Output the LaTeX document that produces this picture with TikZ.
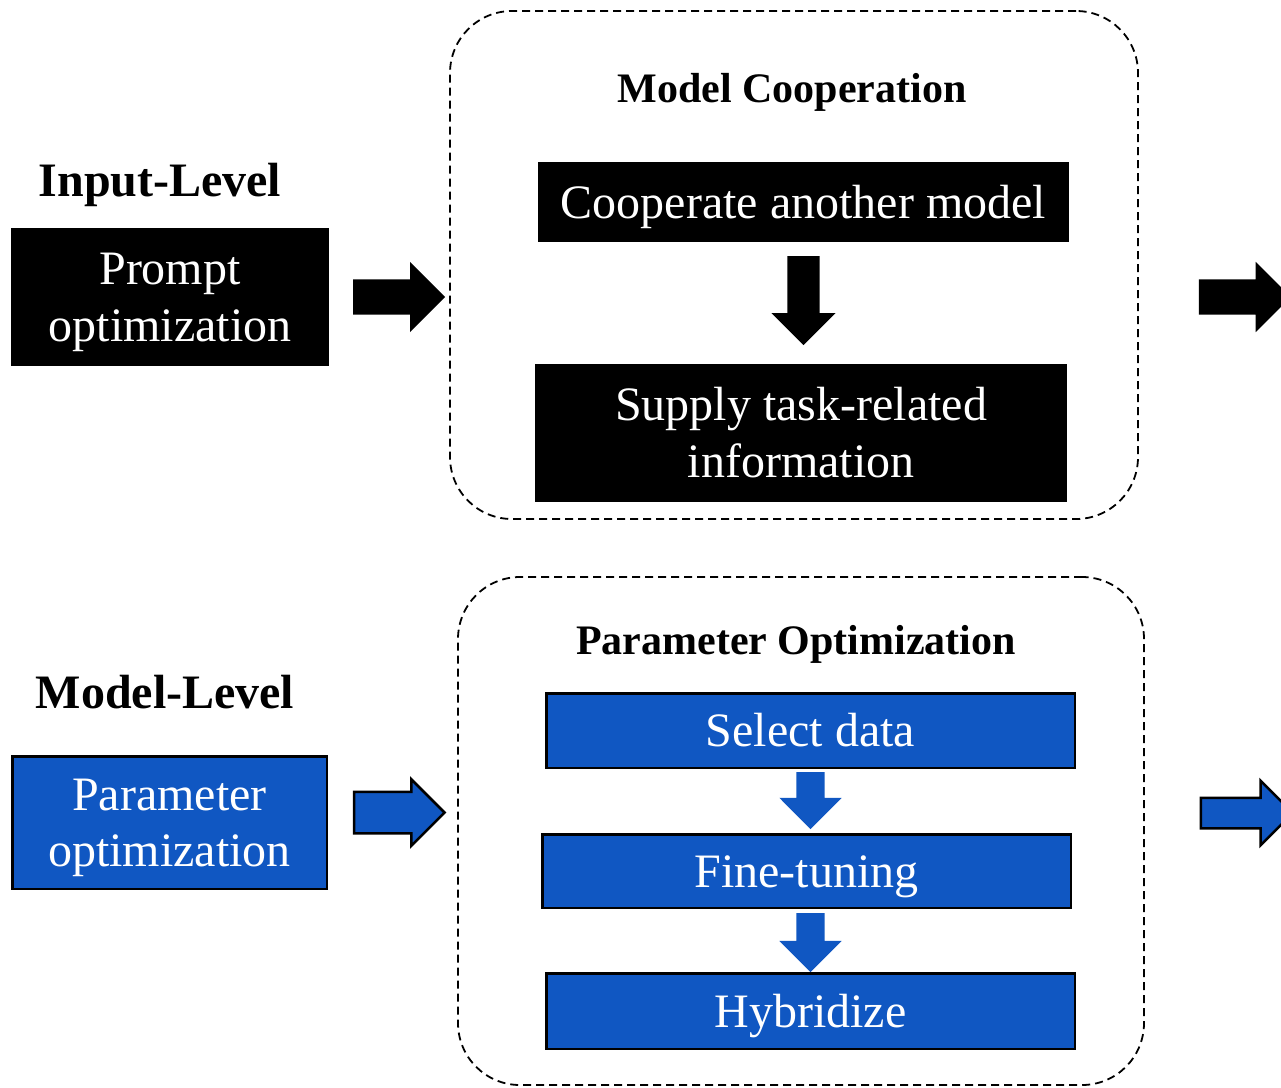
\documentclass[tikz,border=0pt]{standalone}
\usepackage{fontspec}
\setmainfont{Liberation Serif}
\usepackage{xcolor}
\usetikzlibrary{shapes.arrows,calc}
\definecolor{blockblue}{RGB}{16,87,194}
% fixed line box so text sits like the original
\newcommand{\firststrut}{\rule{0pt}{44pt}}
\newcommand{\laststrut}{\rule[-12pt]{0pt}{12pt}}

\begin{document}
\begin{tikzpicture}[x=1pt, y=-1pt,
        boxtext/.style={text=white, inner sep=0pt, align=center, font=\fontsize{48}{56.5}\selectfont,
            execute at begin node=\firststrut, execute at end node=\laststrut},
        darkbox/.style={boxtext, fill=black},
        bluebox/.style={boxtext, fill=blockblue, draw=black, line width=2.5pt},
        levellabel/.style={font=\bfseries\fontsize{48}{58}\selectfont},
        grouptitle/.style={font=\bfseries\fontsize{42}{50}\selectfont},
        groupframe/.style={draw, line width=1.8pt, rounded corners=62pt, dash pattern=on 8pt off 5pt, inner sep=0pt},
        blockarrow/.style={single arrow, inner xsep=0pt, outer sep=0pt, anchor=tail},
        downarrow/.style={single arrow, shape border rotate=270, outer sep=0pt, anchor=tail}]
                \useasboundingbox (0,0) rectangle (1281,1087);

                % input level
                \node[levellabel] (inputlabel) at (160,184.5) {Input-Level};
                \node[darkbox, minimum width=318, minimum height=138] (prompt) at (170,297) {\firststrut Prompt\\optimization};

                \node[groupframe, minimum width=688, minimum height=508] (coopframe) at (794,265) {};
                \node[grouptitle] (cooptitle) at (792,92) {Model Cooperation};
                \node[darkbox, minimum width=531, minimum height=80] (coop) at (803.5,202) {Cooperate another model};
                \node[darkbox, minimum width=532, minimum height=138] (supply) at (801,433) {\firststrut Supply task-related\\information};

                \node[blockarrow, fill=black, inner ysep=17.5, single arrow head extend=17.5, minimum height=92] (arrowin) at ($(prompt.east)+(24,0)$) {};
                \node[downarrow, fill=black, inner sep=16, single arrow head extend=16, minimum height=89] (arrowcoop) at ($(coop.south)+(0,14)$) {};
                \node[blockarrow, fill=black, inner ysep=17.5, single arrow head extend=17.5, minimum height=92] (arrowout) at ($(coopframe.east)+(60,32)$) {};

                % model level
                \node[levellabel] (modellabel) at (165,692) {Model-Level};
                \node[bluebox, minimum width=314.5, minimum height=132.5] (param) at (169.5,822.5) {\firststrut Parameter\\optimization};

                \node[groupframe, minimum width=686, minimum height=508] (paramframe) at (801,831) {};
                \node[grouptitle] (paramtitle) at (796,644) {Parameter Optimization};
                \node[bluebox, minimum width=528.5, minimum height=74.5] (select) at (810.5,730.5) {Select data};
                \node[bluebox, minimum width=528.5, minimum height=73.5] (finetune) at (806.5,871) {Fine-tuning};
                \node[bluebox, minimum width=528.5, minimum height=75.5] (hybrid) at (810.5,1011) {Hybridize};

                \node[blockarrow, fill=blockblue, draw=black, line width=2.5pt, inner ysep=19.5, single arrow head extend=12.5, minimum height=90.5] (arrowparam) at ($(param.east)+(26,-10)$) {};
                \node[downarrow, fill=blockblue, inner sep=14, single arrow head extend=17, minimum height=57] (arrowsel) at ($(select.south)+(0,3)$) {};
                \node[downarrow, fill=blockblue, inner sep=14, single arrow head extend=17, minimum height=59] (arrowtune) at ($(finetune.south)+(4,4)$) {};
                \node[blockarrow, fill=blockblue, draw=black, line width=2.5pt, inner ysep=14, single arrow head extend=17, minimum height=92] (arrowpout) at ($(paramframe.east)+(56,-18)$) {};
            \end{tikzpicture}
\end{document}
